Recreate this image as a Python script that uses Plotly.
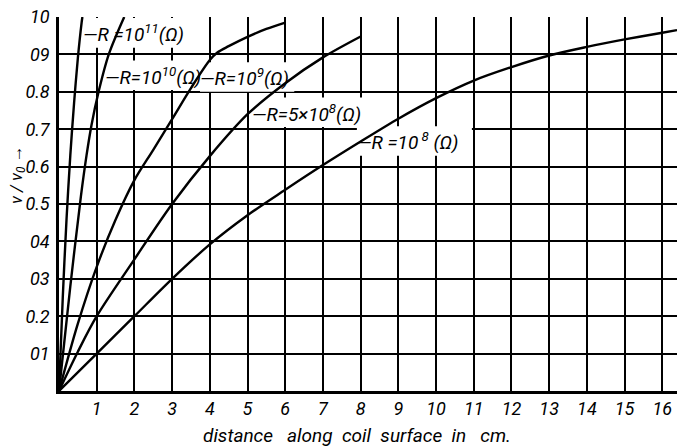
import plotly.graph_objects as go

# ---- data ----
x_r11 = [0, 0.1, 0.2, 0.3, 0.4, 0.5, 0.6, 0.62]
y_r11 = [0, 0.25, 0.46, 0.63, 0.77, 0.89, 0.985, 1.0]

x_r10 = [0, 0.3, 0.58, 0.73, 0.86, 1.05, 1.32, 1.73]
y_r10 = [0, 0.28, 0.52, 0.63, 0.71, 0.80, 0.90, 1.0]

x_r9 = [0, 0.5, 1, 1.5, 2, 2.5, 3, 3.5, 4, 4.2, 4.5, 5, 5.5, 6]
y_r9 = [0, 0.18, 0.332, 0.458, 0.564, 0.645, 0.727, 0.81, 0.885, 0.905, 0.922, 0.947, 0.968, 0.985]

x_r5e8 = [0, 0.5, 1, 2, 3, 4, 5, 6, 7, 8]
y_r5e8 = [0, 0.105, 0.20, 0.352, 0.50, 0.628, 0.74, 0.823, 0.892, 0.948]

x_r8 = [0, 1, 2, 3, 4, 5, 6, 7, 8, 9, 10, 11, 12, 13, 14, 15, 16, 16.39]
y_r8 = [0, 0.10, 0.20, 0.30, 0.392, 0.47, 0.538, 0.604, 0.667, 0.728, 0.783, 0.83, 0.866, 0.897, 0.92, 0.94, 0.958, 0.965]

x_ticks = list(range(1, 17))
x_ticklabels = [str(v) for v in x_ticks]
y_ticks = [0.1, 0.2, 0.3, 0.4, 0.5, 0.6, 0.7, 0.8, 0.9, 1.0]
y_ticklabels = ["01", "0.2", "03", "04", "0.5", "0.6", "0.7", "0.8", "09", "10"]

# curve labels: text, anchor x (left), anchor y (centre), box width (x units)
labels = ["—R =10<sup>11</sup>(Ω)", "—R=10<sup>10</sup>(Ω)", "—R=10<sup>9</sup>(Ω)",
          "—R=5×10<sup>8</sup>(Ω)", "—R =10<sup> 8</sup> (Ω)"]
label_x = [0.58, 1.17, 3.69, 5.07, 7.85]
label_y = [0.955, 0.842, 0.837, 0.743, 0.666]
label_w = [2.55, 2.55, 2.55, 3.1, 3.1]

FONT = "Roboto, Liberation Sans, sans-serif"

fig = go.Figure()
for xs, ys in [(x_r11, y_r11), (x_r10, y_r10), (x_r9, y_r9), (x_r5e8, y_r5e8), (x_r8, y_r8)]:
    fig.add_trace(go.Scatter(x=xs, y=ys, mode="lines",
                             line=dict(color="black", width=2.4, shape="spline", smoothing=0.9),
                             showlegend=False, hoverinfo="skip"))

shapes = []
annotations = []
for t, lx, ly, w in zip(labels, label_x, label_y, label_w):
    shapes.append(dict(type="rect", xref="x", yref="y", x0=lx + 0.05, x1=lx + w,
                       y0=ly - 0.037, y1=ly + 0.042, fillcolor="white",
                       line=dict(width=0), layer="between"))
    annotations.append(dict(x=lx, y=ly, xref="x", yref="y", text="<i>" + t + "</i>",
                            showarrow=False, xanchor="left", yanchor="middle",
                            font=dict(family=FONT, size=19, color="black")))

annotations.append(dict(x=0.5, y=-0.118, xref="paper", yref="paper",
                        text="<i>distance   along  coil  surface  in   cm.</i>",
                        showarrow=False, xanchor="center", yanchor="middle", xshift=-11,
                        font=dict(family=FONT, size=19, color="black")))
annotations.append(dict(x=-0.068, y=0.58, xref="paper", yref="paper",
                        text="<i>v / v<sub>0</sub> →</i>", textangle=-90,
                        showarrow=False, xanchor="center", yanchor="middle",
                        font=dict(family=FONT, size=17, color="black")))

fig.update_layout(
    width=678, height=446,
    margin=dict(l=59, r=1, t=17, b=55),
    paper_bgcolor="white", plot_bgcolor="white",
    shapes=shapes, annotations=annotations,
    xaxis=dict(range=[0, 16.39], tickvals=x_ticks,
               ticktext=["<i>" + s + "</i>" for s in x_ticklabels],
               showgrid=True, gridcolor="black", gridwidth=1.5,
               showline=True, linecolor="black", linewidth=2.5,
               zeroline=False, ticks="", ticklabelstandoff=0,
               tickfont=dict(family=FONT, size=18, color="black")),
    yaxis=dict(range=[0, 1.0], tickvals=y_ticks,
               ticktext=["<i>" + s + "</i>" for s in y_ticklabels],
               showgrid=True, gridcolor="black", gridwidth=1.5,
               showline=True, linecolor="black", linewidth=2.5,
               zeroline=False, ticks="", ticklabelstandoff=3,
               tickfont=dict(family=FONT, size=18, color="black")),
)

fig.write_html("out.html")
